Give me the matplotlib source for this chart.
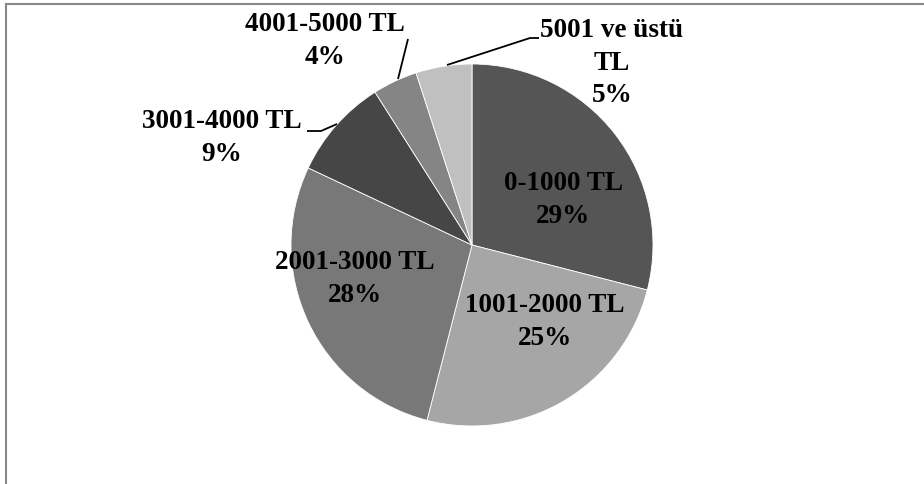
import matplotlib
matplotlib.use("Agg")
import matplotlib.pyplot as plt
from matplotlib.lines import Line2D

# income brackets and their shares (%)
brackets = ["0-1000 TL", "1001-2000 TL", "2001-3000 TL",
            "3001-4000 TL", "4001-5000 TL", "5001 ve üstü\nTL"]
shares = [29, 25, 28, 9, 4, 5]
colors = ["#555555", "#a6a6a6", "#787878", "#464646", "#858585", "#c0c0c0"]

W, H = 924, 485
fig = plt.figure(figsize=(W / 100, H / 100), dpi=100)
ax = fig.add_axes([0, 0, 1, 1])

cx, cy, r = 472, H - 246, 181
ax.pie(shares, colors=colors, startangle=90, counterclock=False,
       center=(cx, cy), radius=r, frame=True,
       wedgeprops=dict(edgecolor="white", linewidth=0.6))
ax.set_xlim(0, W)
ax.set_ylim(0, H)
ax.set_aspect("equal")
ax.axis("off")

# label centres in pixel coords (y measured from the top)
label_pos = [(563, 200), (545, 322), (355, 279), (222, 138), (325, 41), (612, 63)]
font = dict(family="Liberation Serif", fontweight="bold", fontsize=19.5,
            ha="center", va="center", linespacing=1.4, color="black")
for name, val, (x, y) in zip(brackets, shares, label_pos):
    ax.text(x, H - y, "%s\n%d%%" % (name, val), **font)

# leader lines for the small slices
leaders = [
    [(307, 132), (321, 132), (337, 125)],
    [(408, 40), (398, 80)],
    [(539, 39), (530, 39), (447, 66)],
]
for pts in leaders:
    xs = [p[0] for p in pts]
    ys = [H - p[1] for p in pts]
    ax.plot(xs, ys, color="black", lw=1.3, solid_capstyle="butt")

# chart area border (top and left edges visible)
fig.lines.append(Line2D([5.5 / W, 1], [1 - 4.5 / H, 1 - 4.5 / H],
                        transform=fig.transFigure, color="#888888", lw=1.5))
fig.lines.append(Line2D([5.5 / W, 5.5 / W], [0, 1 - 4.5 / H],
                        transform=fig.transFigure, color="#888888", lw=1.5))

fig.savefig("out.png", dpi=100, facecolor="white")
